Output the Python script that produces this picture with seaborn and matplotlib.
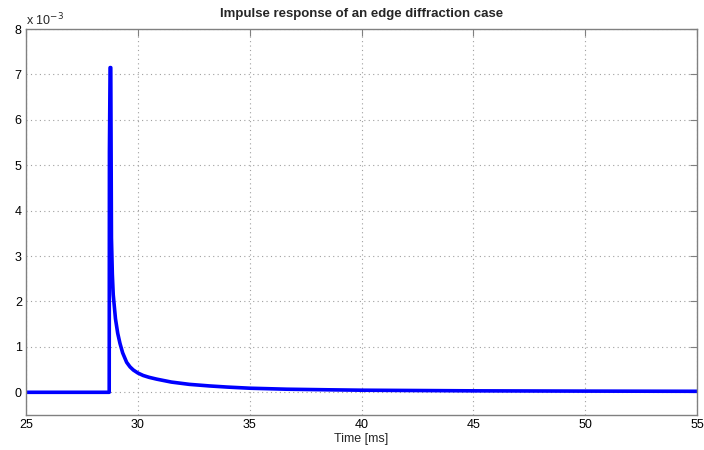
import matplotlib
matplotlib.use("Agg")
import matplotlib.pyplot as plt
import seaborn as sns
import pandas as pd

# Data (amplitude in units of 1e-3)
time_ms = [25.0, 28.72, 28.73, 28.76, 28.79, 28.82, 28.86, 28.90, 29.00, 29.10,
           29.20, 29.32, 29.50, 29.65, 29.80, 30.00, 30.24, 30.50, 30.84, 31.50,
           32.30, 33.20, 34.00, 35.00, 36.65, 38.50, 40.00, 45.00, 50.00, 55.00]
amp_e3 = [0.0, 0.0, 5.3, 7.15, 7.15, 3.4, 2.6, 2.15, 1.62, 1.3,
          1.08, 0.87, 0.66, 0.56, 0.49, 0.425, 0.37, 0.33, 0.29, 0.225,
          0.175, 0.14, 0.115, 0.09, 0.068, 0.055, 0.046, 0.032, 0.026, 0.022]
x_ticks = [25, 30, 35, 40, 45, 50, 55]
y_ticks = [0, 1, 2, 3, 4, 5, 6, 7, 8]
title = "Impulse response of an edge diffraction case"
xlabel = "Time [ms]"

sns.set_style("white")
plt.rcParams['font.family'] = ['Liberation Sans', 'DejaVu Sans']

fig = plt.figure(figsize=(7.04, 4.50), dpi=100)
ax = fig.add_axes([26/704, 1 - 415/450, (697 - 26)/704, (415 - 29)/450])

df = pd.DataFrame({"t": time_ms, "a": amp_e3})
sns.lineplot(data=df, x="t", y="a", ax=ax, color="#0000ff", linewidth=2.6, sort=False)

ax.set_xlim(25, 55)
ax.set_ylim(-0.5, 8)
ax.set_xticks(x_ticks)
ax.set_yticks(y_ticks)
ax.set_xticklabels([str(v) for v in x_ticks])
ax.set_yticklabels([str(v) for v in y_ticks])

ax.grid(True, linestyle=(0, (1, 3)), color="#a0a0a0", linewidth=0.8)
for s in ax.spines.values():
    s.set_color("#808080")
    s.set_linewidth(1.0)
ax.tick_params(direction="in", length=5, width=0.8, color="#808080",
               labelsize=9, labelcolor="black", top=True, right=True, pad=3)

ax.set_xlabel(xlabel, fontsize=9, labelpad=1)
ax.set_ylabel("")
ax.set_title(title, fontsize=9.5, fontweight="bold", pad=9)
ax.text(0.0, 1.003, r"x 10$^{-3}$", transform=ax.transAxes, fontsize=9,
        ha="left", va="bottom")

fig.savefig("out.png", dpi=100)
